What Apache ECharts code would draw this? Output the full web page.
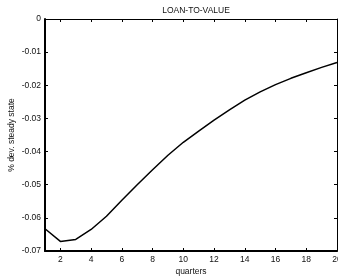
<!DOCTYPE html>
<html><head><meta charset="utf-8">
<script src="https://cdn.jsdelivr.net/npm/echarts@6/dist/echarts.min.js"></script>
<style>html,body{margin:0;padding:0;background:#fff}#c{width:338px;height:280px}</style>
</head><body><div id="c"></div>
<script>
const quarters = [1,2,3,4,5,6,7,8,9,10,11,12,13,14,15,16,17,18,19,20];
const loanToValue = [-0.0633,-0.0671,-0.0665,-0.0635,-0.0595,-0.0547,-0.0500,-0.0455,-0.0411,-0.0372,-0.0338,-0.0305,-0.0274,-0.0245,-0.0220,-0.0198,-0.0179,-0.0162,-0.0146,-0.0131];
const xTicks = [2,4,6,8,10,12,14,16,18,20];
const titleText = 'LOAN-TO-VALUE';
const yName = '% dev. steady state';
const xName = 'quarters';

const font = 'Liberation Sans, Arial, sans-serif';
const chart = echarts.init(document.getElementById('c'), null, {renderer:'canvas'});
const data = quarters.map((q,i)=>[q, loanToValue[i]]);
chart.setOption({
  animation:false,
  title:{text:titleText,left:191,top:1,textAlign:'center',textStyle:{fontSize:8.5,fontWeight:'normal',color:'#111',fontFamily:font}},
  grid:{left:45,right:1,top:19,bottom:29,outerBoundsMode:'none',containLabel:false},
  xAxis:[{
    type:'value',min:1,max:20,position:'bottom',
    name:xName,nameLocation:'middle',nameGap:16,nameMoveOverlap:false,
    nameTextStyle:{fontSize:8.5,color:'#111',fontFamily:font},
    axisLine:{show:true,onZero:false,lineStyle:{color:'#000',width:2}},
    axisTick:{show:true,inside:true,length:3,customValues:xTicks,lineStyle:{color:'#000'}},
    axisLabel:{customValues:xTicks,fontSize:8.5,color:'#111',margin:4,fontFamily:font,showMinLabel:true,showMaxLabel:true,hideOverlap:false},
    splitLine:{show:false}
  },{
    type:'value',min:1,max:20,position:'top',
    axisLine:{show:true,onZero:false,lineStyle:{color:'#000',width:1}},
    axisTick:{show:true,inside:true,length:3,customValues:xTicks,lineStyle:{color:'#000'}},
    axisLabel:{show:false},splitLine:{show:false}
  }],
  yAxis:[{
    type:'value',min:-0.07,max:0,interval:0.01,position:'left',
    name:yName,nameLocation:'middle',nameGap:29,nameMoveOverlap:false,
    nameTextStyle:{fontSize:8.5,color:'#111',fontFamily:font},
    axisLine:{show:true,onZero:false,lineStyle:{color:'#000',width:2}},
    axisTick:{show:true,inside:true,length:3,lineStyle:{color:'#000'}},
    axisLabel:{fontSize:8.5,color:'#111',margin:4,fontFamily:font,formatter:v=>v===0?'0':v.toFixed(2)},
    splitLine:{show:false}
  },{
    type:'value',min:-0.07,max:0,interval:0.01,position:'right',
    axisLine:{show:true,onZero:false,lineStyle:{color:'#000',width:1}},
    axisTick:{show:true,inside:true,length:3,lineStyle:{color:'#000'}},
    axisLabel:{show:false},splitLine:{show:false}
  }],
  series:[{type:'line',data:data,xAxisIndex:0,yAxisIndex:0,showSymbol:false,lineStyle:{color:'#000',width:1.5}}]
});
</script></body></html>
